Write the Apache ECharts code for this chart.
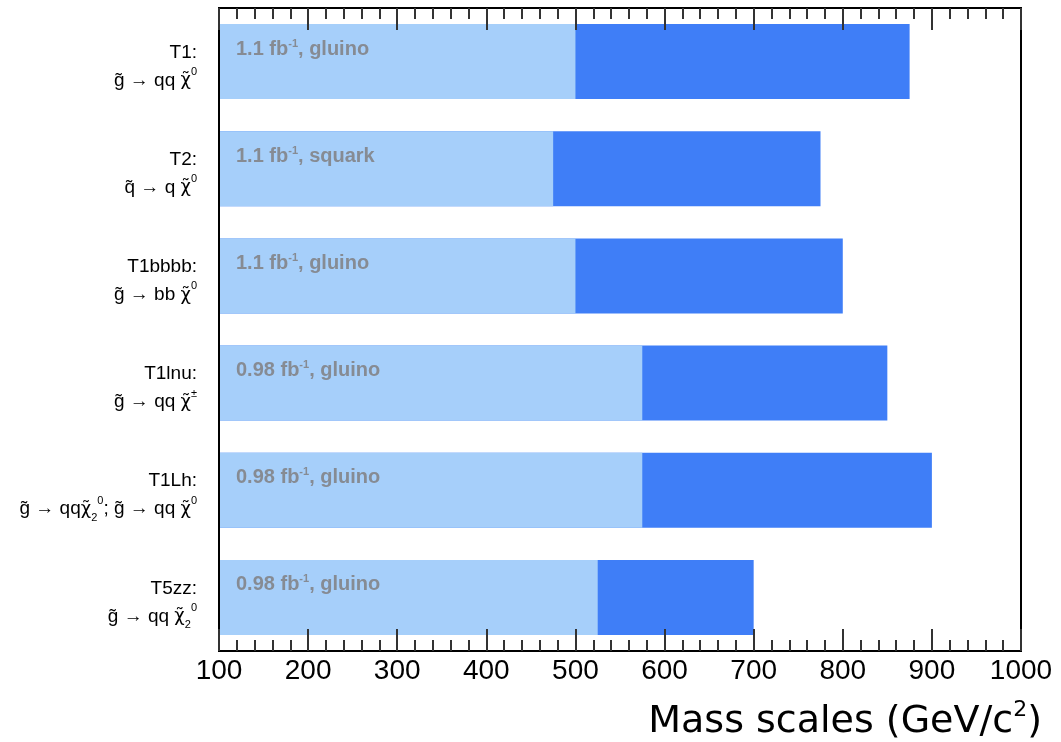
<!DOCTYPE html>
<html>
<head>
<meta charset="utf-8">
<script src="https://cdn.jsdelivr.net/npm/echarts/dist/echarts.min.js"></script>
<style>
html,body{margin:0;padding:0;background:#fff;}
#chart{width:1061px;height:742px;}
</style>
</head>
<body>
<div id="chart"></div>
<script>
// ---- data ----
var models = ['T1', 'T2', 'T1bbbb', 'T1lnu', 'T1Lh', 'T5zz'];
var decays = [
  '{m|g\u0303 \u2192 qq }{c|\u03c7\u0303}{sup|0}',
  '{m|q\u0303 \u2192 q }{c|\u03c7\u0303}{sup|0}',
  '{m|g\u0303 \u2192 bb }{c|\u03c7\u0303}{sup|0}',
  '{m|g\u0303 \u2192 qq }{c|\u03c7\u0303}{sup|\u00b1}',
  '{m|g\u0303 \u2192 qq}{c|\u03c7\u0303}{sub|2}{sup|0}{m|; g\u0303 \u2192 qq }{c|\u03c7\u0303}{sup|0}',
  '{m|g\u0303 \u2192 qq }{c|\u03c7\u0303}{sub|2}{sup|0}'
];
var lumis = ['1.1', '1.1', '1.1', '0.98', '0.98', '0.98'];
var sparticles = ['gluino', 'squark', 'gluino', 'gluino', 'gluino', 'gluino'];
var lightValues = [500, 475, 500, 575, 575, 525];
var darkValues = [875, 775, 800, 850, 900, 700];
var xMin = 100, xMax = 1000, xInterval = 100;
var xTitle = ['Mass scales (GeV/c', '2', ')'];

var chart = echarts.init(document.getElementById('chart'));
var font = 'Liberation Sans, Arial, Helvetica, sans-serif';
var tickAxisCommon = {
  type: 'value',
  min: xMin, max: xMax, interval: xInterval,
  startValue: xMin,
  z: 10,
  axisLine: {show: true, onZero: false, lineStyle: {color: '#000', width: 2}},
  axisTick: {show: true, inside: true, length: 22, lineStyle: {color: '#333', width: 2}},
  minorTick: {show: true, splitNumber: 5, length: 11, lineStyle: {color: '#333', width: 2}},
  splitLine: {show: false},
  minorSplitLine: {show: false}
};

var option = {
  animation: false,
  backgroundColor: '#fff',
  title: {
    text: '{a|' + xTitle[0] + '}{s|' + xTitle[1] + '}{a|' + xTitle[2] + '}',
    right: 14, top: 694,
    textStyle: {
      fontWeight: 'normal',
      rich: {
        a: {fontFamily: 'DejaVu Sans', fontWeight: 'normal', fontSize: 38, color: '#000', lineHeight: 46},
        s: {fontFamily: 'DejaVu Sans', fontWeight: 'normal', fontSize: 22, color: '#000', verticalAlign: 'top', lineHeight: 22}
      }
    }
  },
  grid: {left: 219, right: 40, top: 8, bottom: 91, show: true, borderColor: '#000', borderWidth: 2, backgroundColor: 'transparent'},
  xAxis: [
    Object.assign({}, tickAxisCommon, {
      position: 'bottom',
      axisLabel: {show: true, margin: 6, fontFamily: font, fontSize: 28, color: '#000',
        formatter: function (v) { return String(v); }}
    }),
    Object.assign({}, tickAxisCommon, {
      position: 'top',
      axisLabel: {show: false}
    })
  ],
  yAxis: {
    type: 'category',
    inverse: true,
    data: models,
    z: 10,
    axisLine: {show: true, lineStyle: {color: '#000', width: 2}},
    axisTick: {show: false},
    splitLine: {show: false},
    axisLabel: {
      margin: 22,
      align: 'right',
      padding: [10, 0, 0, 0],
      formatter: function (v, i) {
        return '{t|' + v + ':}\n' + decays[i];
      },
      rich: {
        t: {fontFamily: font, fontSize: 19, color: '#000', lineHeight: 28, align: 'right'},
        m: {fontFamily: font, fontSize: 19, color: '#000', lineHeight: 28},
        c: {fontFamily: 'DejaVu Sans', fontSize: 18, color: '#000', lineHeight: 28},
        sup: {fontFamily: font, fontSize: 11, color: '#000', verticalAlign: 'top', lineHeight: 14},
        sub: {fontFamily: font, fontSize: 11, color: '#000', verticalAlign: 'bottom', lineHeight: 12}
      }
    }
  },
  series: [
    {
      name: 'dark',
      type: 'bar',
      data: darkValues,
      barWidth: '70%',
      barGap: '-100%',
      itemStyle: {color: '#3f7ef7'},
      z: 1
    },
    {
      name: 'light',
      type: 'bar',
      data: lightValues,
      barWidth: '70%',
      barGap: '-100%',
      itemStyle: {color: '#a6cffa'},
      z: 2,
      label: {
        show: true,
        position: [17, 14],
        formatter: function (p) {
          return '{a|' + lumis[p.dataIndex] + ' fb}{s|-1}{a|, ' + sparticles[p.dataIndex] + '}';
        },
        rich: {
          a: {fontFamily: font, fontSize: 20, fontWeight: 'bold', color: '#868b93', lineHeight: 22},
          s: {fontFamily: font, fontSize: 11, fontWeight: 'bold', color: '#868b93', verticalAlign: 'top', lineHeight: 12}
        }
      }
    }
  ]
};
chart.setOption(option);
</script>
</body>
</html>
